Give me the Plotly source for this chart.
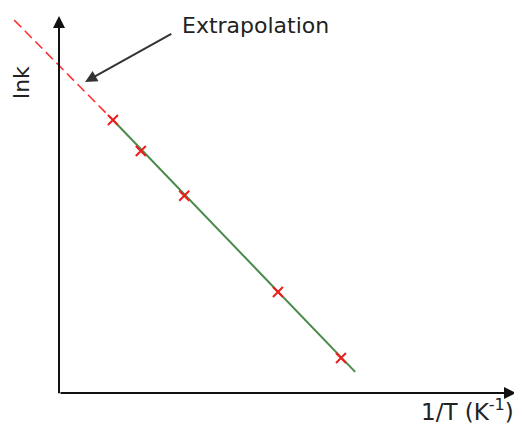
import plotly.graph_objects as go

# measured data (arbitrary units: 1/T and ln k)
inv_T = [1.18, 1.79, 2.74, 4.79, 6.17]
ln_k = [7.24, 6.42, 5.23, 2.68, 0.93]

# best-fit line (green) and extrapolation (red dashed) end points
fit_x = [1.18, 6.48]
fit_y = [7.24, 0.56]
extrap_x = [-0.98, 1.18]
extrap_y = [9.89, 7.24]

axis_end_x = 10.0
axis_end_y = 10.0

fig = go.Figure()
fig.add_trace(go.Scatter(x=extrap_x, y=extrap_y, mode="lines",
                         line=dict(color="#ff2a2a", width=1.5, dash="10px,5px"),
                         hoverinfo="skip"))
fig.add_trace(go.Scatter(x=fit_x, y=fit_y, mode="lines",
                         line=dict(color="#4a8a4a", width=2), hoverinfo="skip"))
fig.add_trace(go.Scatter(x=inv_T, y=ln_k, mode="markers",
                         marker=dict(symbol="x-thin", size=10,
                                     line=dict(color="#ee1c1c", width=2))))

font = dict(family="DejaVu Sans, Verdana, sans-serif", color="#222222")

# axes with arrowheads
fig.add_annotation(x=axis_end_x, y=0, ax=0, ay=0, xref="x", yref="y", axref="x", ayref="y",
                   showarrow=True, arrowhead=2, arrowsize=1.2, arrowwidth=2, arrowcolor="#111111", text="")
fig.add_annotation(x=0, y=axis_end_y, ax=0, ay=-0.05, xref="x", yref="y", axref="x", ayref="y",
                   showarrow=True, arrowhead=2, arrowsize=1.2, arrowwidth=2, arrowcolor="#111111", text="")

# extrapolation pointer
fig.add_annotation(x=0.57, y=8.25, ax=2.49, ay=9.55, xref="x", yref="y", axref="x", ayref="y",
                   showarrow=True, arrowhead=2, arrowsize=1.2, arrowwidth=2, arrowcolor="#333333", text="")
fig.add_annotation(x=2.65, y=9.76, xref="x", yref="y", text="Extrapolation", showarrow=False,
                   xanchor="left", yanchor="middle", font=dict(size=22, **font))
fig.add_annotation(x=-0.81, y=8.25, xref="x", yref="y", text="lnk", showarrow=False,
                   textangle=-90, font=dict(size=22, **font))
fig.add_annotation(x=8.93, y=-0.45, xref="x", yref="y", text="1/T (K<sup>-1</sup>)", showarrow=False,
                   font=dict(size=23, **font))

# the page body has an 8px margin, so the ranges are shifted to compensate
fig.update_layout(width=522, height=430, autosize=False,
                  margin=dict(l=0, r=0, t=0, b=0),
                  paper_bgcolor="white", plot_bgcolor="white", showlegend=False,
                  xaxis=dict(range=[-1.116, 10.306], visible=False, fixedrange=True),
                  yaxis=dict(range=[-1.194, 10.212], visible=False, fixedrange=True))
fig.write_html("out.html")
